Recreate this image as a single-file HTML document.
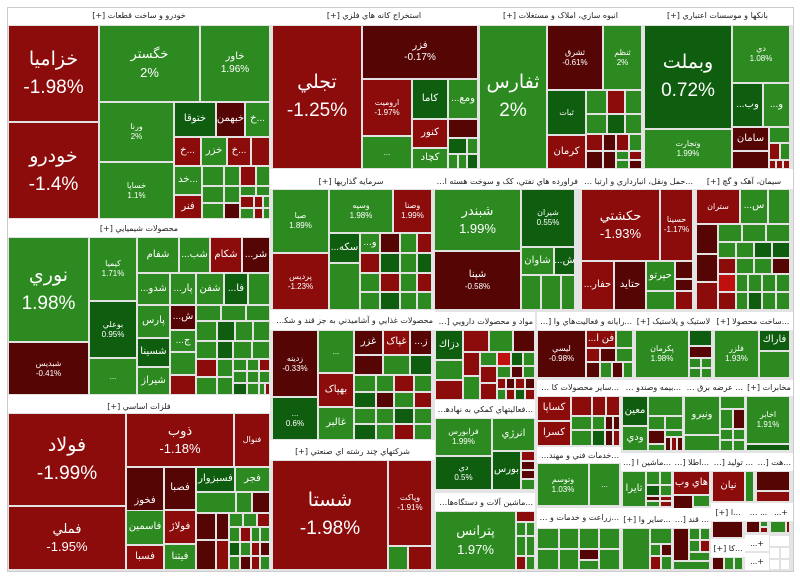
<!DOCTYPE html>
<html><head><meta charset="utf-8"><style>
body{margin:0;width:800px;height:579px;background:#fff;position:relative;overflow:hidden;font-family:"Liberation Sans","DejaVu Sans",sans-serif}
#p{position:absolute;left:7px;top:7px;width:787px;height:565px;background:#e4e4e4;border:1px solid #ccc;box-sizing:border-box}
.b{position:absolute;box-sizing:border-box;border:1px solid #e2e2e2;color:#fff;display:flex;flex-direction:column;align-items:center;justify-content:center;text-align:center;overflow:hidden;font-size:8px;line-height:1.25;white-space:nowrap}
.h{position:absolute;box-sizing:border-box;background:#fff;color:#222;font-size:8px;letter-spacing:-0.2px;text-align:center;overflow:hidden;text-overflow:ellipsis;white-space:nowrap;line-height:15px;direction:rtl;font-family:"DejaVu Sans",sans-serif;padding:0 2px}
.r{background:#8c0b0b}.g{background:#2c8a20}.G{background:#0f5e10}.R{background:#560505}.L{background:#c00f0f}.w{background:#fff}
.x{font-size:19px;line-height:1.45}.m{font-size:13px;line-height:1.4}.s{font-size:10px}
</style></head><body><div id="p"></div>

<!-- خودرو -->
<div class="h" style="left:8px;top:8px;width:262px;height:17px">خودرو و ساخت قطعات [+]</div>
<div class="b r x" style="left:8px;top:25px;width:91px;height:97px">خزاميا<br>-1.98%</div>
<div class="b r x" style="left:8px;top:122px;width:91px;height:97px">خودرو<br>-1.4%</div>
<div class="b g m" style="left:99px;top:25px;width:101px;height:77px">خگستر<br>2%</div>
<div class="b g s" style="left:200px;top:25px;width:70px;height:77px">خاور<br>1.96%</div>
<div class="b g" style="left:99px;top:102px;width:75px;height:60px">ورنا<br>2%</div>
<div class="b g" style="left:99px;top:162px;width:75px;height:57px">خساپا<br>1.1%</div>
<div class="b G s" style="left:174px;top:102px;width:42px;height:35px">ختوقا</div>
<div class="b R s" style="left:216px;top:102px;width:29px;height:35px">خبهمن</div>
<div class="b g s" style="left:245px;top:102px;width:25px;height:35px">خ...</div>
<div class="b r s" style="left:174px;top:137px;width:27px;height:29px">خ...</div>
<div class="b g s" style="left:201px;top:137px;width:26px;height:29px">خزر</div>
<div class="b r s" style="left:227px;top:137px;width:24px;height:29px">خ...</div>
<div class="b r" style="left:251px;top:137px;width:19px;height:29px"></div>
<div class="b g s" style="left:174px;top:166px;width:28px;height:29px">خد...</div>
<div class="b r s" style="left:174px;top:195px;width:28px;height:24px">فنر</div>
<div class="b g" style="left:202px;top:166px;width:22px;height:20px"></div>
<div class="b g" style="left:224px;top:166px;width:16px;height:20px"></div>
<div class="b r" style="left:240px;top:166px;width:16px;height:20px"></div>
<div class="b g" style="left:256px;top:166px;width:14px;height:20px"></div>
<div class="b g" style="left:202px;top:186px;width:22px;height:17px"></div>
<div class="b g" style="left:224px;top:186px;width:16px;height:17px"></div>
<div class="b g" style="left:240px;top:186px;width:16px;height:10px"></div>
<div class="b g" style="left:256px;top:186px;width:14px;height:10px"></div>
<div class="b g" style="left:202px;top:203px;width:22px;height:16px"></div>
<div class="b R" style="left:224px;top:203px;width:16px;height:16px"></div>
<div class="b r" style="left:240px;top:196px;width:14px;height:12px"></div>
<div class="b r" style="left:254px;top:196px;width:9px;height:12px"></div>
<div class="b g" style="left:263px;top:196px;width:7px;height:12px"></div>
<div class="b g" style="left:240px;top:208px;width:14px;height:11px"></div>
<div class="b r" style="left:254px;top:208px;width:9px;height:11px"></div>
<div class="b g" style="left:263px;top:208px;width:7px;height:11px"></div>

<!-- شیمیایی -->
<div class="h" style="left:8px;top:219px;width:262px;height:18px;line-height:20px">محصولات شيميايي [+]</div>
<div class="b g x" style="left:8px;top:237px;width:81px;height:105px">نوري<br>1.98%</div>
<div class="b R" style="left:8px;top:342px;width:81px;height:53px">شبديس<br>-0.41%</div>
<div class="b g" style="left:89px;top:237px;width:48px;height:64px">كيميا<br>1.71%</div>
<div class="b G" style="left:89px;top:301px;width:48px;height:57px">بوعلي<br>0.95%</div>
<div class="b g" style="left:89px;top:358px;width:48px;height:37px">...</div>
<div class="b g s" style="left:137px;top:237px;width:42px;height:36px">شفام</div>
<div class="b g s" style="left:179px;top:237px;width:31px;height:36px">...شب</div>
<div class="b r s" style="left:210px;top:237px;width:32px;height:36px">شكام</div>
<div class="b R s" style="left:242px;top:237px;width:28px;height:36px">...شر</div>
<div class="b g s" style="left:137px;top:273px;width:33px;height:32px">...شدو</div>
<div class="b g s" style="left:137px;top:305px;width:33px;height:33px">پارس</div>
<div class="b G s" style="left:137px;top:338px;width:33px;height:29px">شسينا</div>
<div class="b g s" style="left:137px;top:367px;width:33px;height:28px">شيراز</div>
<div class="b g s" style="left:170px;top:273px;width:26px;height:32px">...پار</div>
<div class="b R s" style="left:170px;top:305px;width:26px;height:25px">...ش</div>
<div class="b g s" style="left:170px;top:330px;width:26px;height:22px">...ج</div>
<div class="b g" style="left:170px;top:352px;width:26px;height:23px"></div>
<div class="b r" style="left:170px;top:375px;width:26px;height:20px"></div>
<div class="b g s" style="left:196px;top:273px;width:28px;height:32px">شفن</div>
<div class="b G s" style="left:224px;top:273px;width:24px;height:32px">...فا</div>
<div class="b g" style="left:248px;top:273px;width:22px;height:32px"></div>
<div class="b g" style="left:196px;top:305px;width:25px;height:16px"></div>
<div class="b g" style="left:221px;top:305px;width:25px;height:16px"></div>
<div class="b g" style="left:246px;top:305px;width:24px;height:16px"></div>
<div class="b g" style="left:196px;top:321px;width:21px;height:20px"></div>
<div class="b G" style="left:217px;top:321px;width:18px;height:20px"></div>
<div class="b g" style="left:235px;top:321px;width:18px;height:20px"></div>
<div class="b g" style="left:253px;top:321px;width:17px;height:20px"></div>
<div class="b g" style="left:196px;top:341px;width:21px;height:18px"></div>
<div class="b G" style="left:217px;top:341px;width:16px;height:18px"></div>
<div class="b g" style="left:233px;top:341px;width:19px;height:18px"></div>
<div class="b g" style="left:252px;top:341px;width:18px;height:18px"></div>
<div class="b r" style="left:196px;top:359px;width:21px;height:18px"></div>
<div class="b g" style="left:217px;top:359px;width:16px;height:18px"></div>
<div class="b g" style="left:233px;top:359px;width:14px;height:12px"></div>
<div class="b g" style="left:247px;top:359px;width:12px;height:12px"></div>
<div class="b r" style="left:259px;top:359px;width:11px;height:12px"></div>
<div class="b g" style="left:196px;top:377px;width:21px;height:18px"></div>
<div class="b g" style="left:217px;top:377px;width:16px;height:18px"></div>
<div class="b g" style="left:233px;top:371px;width:14px;height:12px"></div>
<div class="b g" style="left:247px;top:371px;width:12px;height:12px"></div>
<div class="b g" style="left:259px;top:371px;width:11px;height:12px"></div>
<div class="b G" style="left:233px;top:383px;width:14px;height:12px"></div>
<div class="b g" style="left:247px;top:383px;width:12px;height:12px"></div>
<div class="b g" style="left:259px;top:383px;width:6px;height:12px"></div>
<div class="b r" style="left:265px;top:383px;width:5px;height:12px"></div>

<!-- فلزات -->
<div class="h" style="left:8px;top:395px;width:262px;height:18px;line-height:24px">فلزات اساسي [+]</div>
<div class="b r x" style="left:8px;top:413px;width:118px;height:93px">فولاد<br>-1.99%</div>
<div class="b r m" style="left:8px;top:506px;width:118px;height:64px">فملي<br>-1.95%</div>
<div class="b r m" style="left:126px;top:413px;width:108px;height:54px">ذوب<br>-1.18%</div>
<div class="b r" style="left:234px;top:413px;width:36px;height:54px">فنوال</div>
<div class="b R s" style="left:126px;top:467px;width:38px;height:69px">فخوز</div>
<div class="b R s" style="left:164px;top:467px;width:32px;height:43px">فصبا</div>
<div class="b r s" style="left:164px;top:510px;width:32px;height:34px">فولاژ</div>
<div class="b g s" style="left:164px;top:544px;width:32px;height:26px">فيتنا</div>
<div class="b g s" style="left:126px;top:510px;width:38px;height:35px">فاسمين</div>
<div class="b r s" style="left:126px;top:545px;width:38px;height:25px">فسبا</div>
<div class="b G s" style="left:196px;top:467px;width:39px;height:25px">فسبزوار</div>
<div class="b g s" style="left:235px;top:467px;width:35px;height:25px">فجر</div>
<div class="b g" style="left:196px;top:492px;width:40px;height:21px"></div>
<div class="b g" style="left:236px;top:492px;width:16px;height:21px"></div>
<div class="b R" style="left:252px;top:492px;width:18px;height:21px"></div>
<div class="b R" style="left:196px;top:513px;width:20px;height:27px"></div>
<div class="b R" style="left:196px;top:540px;width:20px;height:30px"></div>
<div class="b R" style="left:216px;top:513px;width:13px;height:27px"></div>
<div class="b r" style="left:216px;top:540px;width:13px;height:30px"></div>
<div class="b g" style="left:229px;top:513px;width:14px;height:14px"></div>
<div class="b g" style="left:243px;top:513px;width:14px;height:14px"></div>
<div class="b r" style="left:257px;top:513px;width:13px;height:14px"></div>
<div class="b g" style="left:229px;top:527px;width:11px;height:15px"></div>
<div class="b r" style="left:240px;top:527px;width:11px;height:15px"></div>
<div class="b g" style="left:251px;top:527px;width:9px;height:15px"></div>
<div class="b g" style="left:260px;top:527px;width:10px;height:15px"></div>
<div class="b G" style="left:229px;top:542px;width:11px;height:14px"></div>
<div class="b g" style="left:240px;top:542px;width:11px;height:14px"></div>
<div class="b r" style="left:251px;top:542px;width:9px;height:14px"></div>
<div class="b R" style="left:260px;top:542px;width:10px;height:14px"></div>
<div class="b g" style="left:229px;top:556px;width:11px;height:14px"></div>
<div class="b R" style="left:240px;top:556px;width:11px;height:14px"></div>
<div class="b r" style="left:251px;top:556px;width:9px;height:14px"></div>
<div class="b g" style="left:260px;top:556px;width:10px;height:14px"></div>

<!-- استخراج -->
<div class="h" style="left:270px;top:8px;width:208px;height:17px">استخراج كانه هاي فلزي [+]</div>
<div class="b r x" style="left:272px;top:25px;width:90px;height:144px">تجلي<br>-1.25%</div>
<div class="b R s" style="left:362px;top:25px;width:116px;height:54px">فزر<br>-0.17%</div>
<div class="b r" style="left:362px;top:79px;width:50px;height:57px">اروميت<br>-1.97%</div>
<div class="b g" style="left:362px;top:136px;width:50px;height:33px">...</div>
<div class="b G s" style="left:412px;top:79px;width:36px;height:40px">كاما</div>
<div class="b g s" style="left:448px;top:79px;width:30px;height:40px">...ومع</div>
<div class="b r s" style="left:412px;top:119px;width:36px;height:29px">كنور</div>
<div class="b g s" style="left:412px;top:148px;width:36px;height:21px">كچاد</div>
<div class="b R" style="left:448px;top:119px;width:30px;height:19px"></div>
<div class="b G" style="left:448px;top:138px;width:19px;height:16px"></div>
<div class="b g" style="left:467px;top:138px;width:11px;height:16px"></div>
<div class="b g" style="left:448px;top:154px;width:10px;height:15px"></div>
<div class="b g" style="left:458px;top:154px;width:9px;height:15px"></div>
<div class="b G" style="left:467px;top:154px;width:11px;height:15px"></div>

<!-- انبوه -->
<div class="h" style="left:478px;top:8px;width:165px;height:17px">انبوه سازي، املاک و مستغلات [+]</div>
<div class="b g x" style="left:479px;top:25px;width:68px;height:144px">ثفارس<br>2%</div>
<div class="b R" style="left:547px;top:25px;width:56px;height:65px">ثشرق<br>-0.61%</div>
<div class="b g" style="left:603px;top:25px;width:39px;height:65px">ثنظم<br>2%</div>
<div class="b G" style="left:547px;top:90px;width:39px;height:45px">ثبات</div>
<div class="b r s" style="left:547px;top:135px;width:39px;height:34px">كرمان</div>
<div class="b g" style="left:586px;top:90px;width:21px;height:24px"></div>
<div class="b r" style="left:607px;top:90px;width:18px;height:24px"></div>
<div class="b g" style="left:625px;top:90px;width:17px;height:24px"></div>
<div class="b g" style="left:586px;top:114px;width:21px;height:20px"></div>
<div class="b G" style="left:607px;top:114px;width:18px;height:20px"></div>
<div class="b g" style="left:625px;top:114px;width:17px;height:20px"></div>
<div class="b r" style="left:586px;top:134px;width:17px;height:17px"></div>
<div class="b R" style="left:603px;top:134px;width:13px;height:17px"></div>
<div class="b r" style="left:616px;top:134px;width:13px;height:17px"></div>
<div class="b g" style="left:629px;top:134px;width:13px;height:17px"></div>
<div class="b R" style="left:586px;top:151px;width:17px;height:18px"></div>
<div class="b R" style="left:603px;top:151px;width:13px;height:18px"></div>
<div class="b g" style="left:616px;top:151px;width:13px;height:9px"></div>
<div class="b r" style="left:629px;top:151px;width:13px;height:9px"></div>
<div class="b g" style="left:616px;top:160px;width:13px;height:9px"></div>
<div class="b R" style="left:629px;top:160px;width:13px;height:9px"></div>

<!-- بانکها -->
<div class="h" style="left:642px;top:8px;width:151px;height:17px">بانکها و موسسات اعتباري [+]</div>
<div class="b G x" style="left:644px;top:25px;width:88px;height:104px">وبملت<br>0.72%</div>
<div class="b g" style="left:644px;top:129px;width:88px;height:40px">وتجارت<br>1.99%</div>
<div class="b g" style="left:732px;top:25px;width:58px;height:58px">دي<br>1.08%</div>
<div class="b G s" style="left:732px;top:83px;width:31px;height:44px">...وب</div>
<div class="b g s" style="left:763px;top:83px;width:27px;height:44px">...و</div>
<div class="b R s" style="left:732px;top:127px;width:37px;height:24px">سامان</div>
<div class="b R" style="left:732px;top:151px;width:37px;height:18px"></div>
<div class="b g" style="left:769px;top:127px;width:21px;height:16px"></div>
<div class="b r" style="left:769px;top:143px;width:11px;height:17px"></div>
<div class="b g" style="left:780px;top:143px;width:10px;height:17px"></div>
<div class="b r" style="left:769px;top:160px;width:7px;height:9px"></div>
<div class="b r" style="left:776px;top:160px;width:7px;height:9px"></div>
<div class="b r" style="left:783px;top:160px;width:7px;height:9px"></div>

<!-- سرمایه گذاریها -->
<div class="h" style="left:270px;top:169px;width:162px;height:20px;line-height:26px">سرمايه گذاريها [+]</div>
<div class="b g" style="left:272px;top:189px;width:57px;height:64px">صبا<br>1.89%</div>
<div class="b r" style="left:272px;top:253px;width:57px;height:57px">پرديس<br>-1.23%</div>
<div class="b g" style="left:329px;top:189px;width:64px;height:44px">وسپه<br>1.98%</div>
<div class="b r" style="left:393px;top:189px;width:39px;height:44px">وصنا<br>1.99%</div>
<div class="b G s" style="left:329px;top:233px;width:31px;height:30px">...سکه</div>
<div class="b g s" style="left:360px;top:233px;width:20px;height:20px">...و</div>
<div class="b R" style="left:380px;top:233px;width:20px;height:20px"></div>
<div class="b g" style="left:400px;top:233px;width:17px;height:20px"></div>
<div class="b r" style="left:417px;top:233px;width:15px;height:20px"></div>
<div class="b g" style="left:329px;top:263px;width:31px;height:47px"></div>
<div class="b r" style="left:360px;top:253px;width:20px;height:20px"></div>
<div class="b G" style="left:380px;top:253px;width:20px;height:20px"></div>
<div class="b g" style="left:400px;top:253px;width:17px;height:20px"></div>
<div class="b G" style="left:417px;top:253px;width:15px;height:20px"></div>
<div class="b g" style="left:360px;top:273px;width:20px;height:19px"></div>
<div class="b r" style="left:380px;top:273px;width:20px;height:19px"></div>
<div class="b g" style="left:400px;top:273px;width:17px;height:19px"></div>
<div class="b r" style="left:417px;top:273px;width:15px;height:19px"></div>
<div class="b g" style="left:360px;top:292px;width:20px;height:18px"></div>
<div class="b G" style="left:380px;top:292px;width:20px;height:18px"></div>
<div class="b g" style="left:400px;top:292px;width:17px;height:18px"></div>
<div class="b g" style="left:417px;top:292px;width:15px;height:18px"></div>

<!-- فراورده نفتی -->
<div class="h" style="left:432px;top:169px;width:148px;height:20px;line-height:26px">فراورده هاي نفتي، کک و سوخت هسته اي [+]</div>
<div class="b g m" style="left:434px;top:189px;width:87px;height:62px">شبندر<br>1.99%</div>
<div class="b R" style="left:434px;top:251px;width:87px;height:59px"><span class="s">شپنا</span>-0.58%</div>
<div class="b G" style="left:521px;top:189px;width:54px;height:58px">شيران<br>0.55%</div>
<div class="b g s" style="left:521px;top:247px;width:33px;height:28px">شاوان</div>
<div class="b G s" style="left:554px;top:247px;width:21px;height:28px">...ش</div>
<div class="b g" style="left:521px;top:275px;width:20px;height:35px"></div>
<div class="b g" style="left:541px;top:275px;width:20px;height:35px"></div>
<div class="b g" style="left:561px;top:275px;width:14px;height:35px"></div>

<!-- حمل و نقل -->
<div class="h" style="left:580px;top:169px;width:115px;height:20px;line-height:26px">...حمل ونقل، انبارداري و ارتبا [+]</div>
<div class="b r m" style="left:581px;top:189px;width:79px;height:72px">حكشتي<br>-1.93%</div>
<div class="b r" style="left:660px;top:189px;width:33px;height:72px">حسينا<br>-1.17%</div>
<div class="b r s" style="left:581px;top:261px;width:33px;height:49px">...حفار</div>
<div class="b R s" style="left:614px;top:261px;width:32px;height:49px">حتايد</div>
<div class="b g s" style="left:646px;top:261px;width:29px;height:30px">حپرتو</div>
<div class="b R" style="left:675px;top:261px;width:18px;height:18px"></div>
<div class="b R" style="left:675px;top:279px;width:18px;height:12px"></div>
<div class="b g" style="left:646px;top:291px;width:29px;height:19px"></div>
<div class="b r" style="left:675px;top:291px;width:18px;height:19px"></div>

<!-- سیمان -->
<div class="h" style="left:695px;top:169px;width:98px;height:20px;line-height:26px">سيمان، آهک و گچ [+]</div>
<div class="b r" style="left:696px;top:189px;width:44px;height:35px">ستران</div>
<div class="b g s" style="left:740px;top:189px;width:28px;height:35px">...س</div>
<div class="b g" style="left:768px;top:189px;width:22px;height:35px"></div>
<div class="b R" style="left:696px;top:224px;width:22px;height:30px"></div>
<div class="b g" style="left:718px;top:224px;width:24px;height:18px"></div>
<div class="b g" style="left:742px;top:224px;width:24px;height:18px"></div>
<div class="b g" style="left:766px;top:224px;width:24px;height:18px"></div>
<div class="b g" style="left:718px;top:242px;width:18px;height:16px"></div>
<div class="b g" style="left:736px;top:242px;width:18px;height:16px"></div>
<div class="b G" style="left:754px;top:242px;width:18px;height:16px"></div>
<div class="b G" style="left:772px;top:242px;width:18px;height:16px"></div>
<div class="b R" style="left:696px;top:254px;width:22px;height:28px"></div>
<div class="b r" style="left:696px;top:282px;width:22px;height:28px"></div>
<div class="b r" style="left:718px;top:258px;width:18px;height:16px"></div>
<div class="b g" style="left:736px;top:258px;width:18px;height:16px"></div>
<div class="b g" style="left:754px;top:258px;width:18px;height:16px"></div>
<div class="b R" style="left:772px;top:258px;width:18px;height:16px"></div>
<div class="b L" style="left:718px;top:274px;width:18px;height:18px"></div>
<div class="b g" style="left:736px;top:274px;width:12px;height:18px"></div>
<div class="b g" style="left:748px;top:274px;width:14px;height:18px"></div>
<div class="b g" style="left:762px;top:274px;width:14px;height:18px"></div>
<div class="b g" style="left:776px;top:274px;width:14px;height:18px"></div>
<div class="b r" style="left:718px;top:292px;width:18px;height:18px"></div>
<div class="b g" style="left:736px;top:292px;width:12px;height:18px"></div>
<div class="b G" style="left:748px;top:292px;width:14px;height:18px"></div>
<div class="b g" style="left:762px;top:292px;width:14px;height:18px"></div>
<div class="b g" style="left:776px;top:292px;width:14px;height:18px"></div>

<!-- غذایی -->
<div class="h" style="left:270px;top:310px;width:165px;height:20px;line-height:22px">محصولات غذايي و آشاميدني به جز قند و شکر [+]</div>
<div class="b R" style="left:272px;top:330px;width:46px;height:67px">زدينه<br>-0.33%</div>
<div class="b G" style="left:272px;top:397px;width:46px;height:43px">...<br>0.6%</div>
<div class="b g" style="left:318px;top:330px;width:36px;height:43px">...</div>
<div class="b r s" style="left:318px;top:373px;width:36px;height:34px">بهپاک</div>
<div class="b g s" style="left:318px;top:407px;width:36px;height:33px">غالبر</div>
<div class="b R s" style="left:354px;top:330px;width:29px;height:25px">غزر</div>
<div class="b r s" style="left:383px;top:330px;width:27px;height:25px">غپاک</div>
<div class="b R s" style="left:410px;top:330px;width:22px;height:25px">...ز</div>
<div class="b R" style="left:354px;top:355px;width:29px;height:20px"></div>
<div class="b g" style="left:383px;top:355px;width:27px;height:20px"></div>
<div class="b G" style="left:410px;top:355px;width:22px;height:20px"></div>
<div class="b g" style="left:354px;top:375px;width:22px;height:17px"></div>
<div class="b g" style="left:376px;top:375px;width:18px;height:17px"></div>
<div class="b r" style="left:394px;top:375px;width:20px;height:17px"></div>
<div class="b g" style="left:414px;top:375px;width:18px;height:17px"></div>
<div class="b G" style="left:354px;top:392px;width:22px;height:16px"></div>
<div class="b R" style="left:376px;top:392px;width:18px;height:16px"></div>
<div class="b g" style="left:394px;top:392px;width:20px;height:16px"></div>
<div class="b r" style="left:414px;top:392px;width:18px;height:16px"></div>
<div class="b g" style="left:354px;top:408px;width:22px;height:16px"></div>
<div class="b g" style="left:376px;top:408px;width:18px;height:16px"></div>
<div class="b G" style="left:394px;top:408px;width:20px;height:16px"></div>
<div class="b g" style="left:414px;top:408px;width:18px;height:16px"></div>
<div class="b G" style="left:354px;top:424px;width:22px;height:16px"></div>
<div class="b g" style="left:376px;top:424px;width:18px;height:16px"></div>
<div class="b r" style="left:394px;top:424px;width:20px;height:16px"></div>
<div class="b g" style="left:414px;top:424px;width:18px;height:16px"></div>

<!-- چند رشته -->
<div class="h" style="left:270px;top:440px;width:165px;height:20px;line-height:24px">شرکتهاي چند رشته اي صنعتي [+]</div>
<div class="b r x" style="left:272px;top:460px;width:116px;height:110px">شستا<br>-1.98%</div>
<div class="b r" style="left:388px;top:460px;width:44px;height:86px">وپاکت<br>-1.91%</div>
<div class="b g" style="left:388px;top:546px;width:20px;height:24px"></div>
<div class="b r" style="left:408px;top:546px;width:24px;height:24px"></div>

<!-- دارویی -->
<div class="h" style="left:435px;top:312px;width:100px;height:18px;line-height:20px">مواد و محصولات دارويي [+]</div>
<div class="b G s" style="left:435px;top:330px;width:28px;height:30px">دزاك</div>
<div class="b g" style="left:435px;top:360px;width:28px;height:20px"></div>
<div class="b r" style="left:435px;top:380px;width:28px;height:20px"></div>
<div class="b r" style="left:463px;top:330px;width:26px;height:22px"></div>
<div class="b g" style="left:489px;top:330px;width:24px;height:22px"></div>
<div class="b R" style="left:513px;top:330px;width:22px;height:22px"></div>
<div class="b r" style="left:463px;top:352px;width:17px;height:24px"></div>
<div class="b g" style="left:480px;top:352px;width:17px;height:14px"></div>
<div class="b L" style="left:497px;top:352px;width:14px;height:14px"></div>
<div class="b G" style="left:511px;top:352px;width:12px;height:14px"></div>
<div class="b g" style="left:523px;top:352px;width:12px;height:14px"></div>
<div class="b g" style="left:463px;top:376px;width:17px;height:24px"></div>
<div class="b r" style="left:480px;top:366px;width:17px;height:17px"></div>
<div class="b g" style="left:497px;top:366px;width:14px;height:12px"></div>
<div class="b R" style="left:511px;top:366px;width:12px;height:12px"></div>
<div class="b g" style="left:523px;top:366px;width:12px;height:12px"></div>
<div class="b r" style="left:480px;top:383px;width:17px;height:17px"></div>
<div class="b r" style="left:497px;top:378px;width:9px;height:11px"></div>
<div class="b R" style="left:506px;top:378px;width:9px;height:11px"></div>
<div class="b r" style="left:515px;top:378px;width:10px;height:11px"></div>
<div class="b R" style="left:525px;top:378px;width:10px;height:11px"></div>
<div class="b g" style="left:497px;top:389px;width:9px;height:11px"></div>
<div class="b r" style="left:506px;top:389px;width:9px;height:11px"></div>
<div class="b G" style="left:515px;top:389px;width:10px;height:11px"></div>
<div class="b r" style="left:525px;top:389px;width:10px;height:11px"></div>

<!-- رایانه -->
<div class="h" style="left:537px;top:312px;width:97px;height:18px;line-height:20px">...رايانه و فعاليت‌هاي وا [+]</div>
<div class="b R" style="left:537px;top:330px;width:49px;height:48px">ليسي<br>-0.98%</div>
<div class="b r s" style="left:586px;top:330px;width:30px;height:18px">...فن ا</div>
<div class="b g" style="left:616px;top:330px;width:17px;height:18px"></div>
<div class="b r" style="left:586px;top:348px;width:14px;height:14px"></div>
<div class="b R" style="left:600px;top:348px;width:16px;height:14px"></div>
<div class="b g" style="left:616px;top:348px;width:17px;height:14px"></div>
<div class="b R" style="left:586px;top:362px;width:14px;height:16px"></div>
<div class="b g" style="left:600px;top:362px;width:12px;height:16px"></div>
<div class="b R" style="left:612px;top:362px;width:11px;height:16px"></div>
<div class="b g" style="left:623px;top:362px;width:10px;height:16px"></div>

<!-- لاستیک -->
<div class="h" style="left:634px;top:312px;width:79px;height:18px;line-height:20px">لاستيک و پلاستيک [+]</div>
<div class="b g" style="left:635px;top:330px;width:54px;height:48px">پكرمان<br>1.98%</div>
<div class="b G" style="left:689px;top:330px;width:23px;height:16px"></div>
<div class="b R" style="left:689px;top:346px;width:23px;height:12px"></div>
<div class="b g" style="left:689px;top:358px;width:12px;height:10px"></div>
<div class="b g" style="left:701px;top:358px;width:11px;height:10px"></div>
<div class="b g" style="left:689px;top:368px;width:12px;height:10px"></div>
<div class="b g" style="left:701px;top:368px;width:11px;height:10px"></div>

<!-- ساخت محصولات -->
<div class="h" style="left:713px;top:312px;width:80px;height:18px;line-height:20px">...ساخت محصولا [+]</div>
<div class="b g" style="left:714px;top:330px;width:45px;height:48px">فلزر<br>1.93%</div>
<div class="b G s" style="left:759px;top:330px;width:31px;height:21px">فاراك</div>
<div class="b g" style="left:759px;top:351px;width:31px;height:27px"></div>

<!-- سایر محصولات -->
<div class="h" style="left:537px;top:380px;width:84px;height:16px;line-height:16px">...ساير محصولات كا [+]</div>
<div class="b r s" style="left:537px;top:396px;width:34px;height:25px">كساپا</div>
<div class="b r s" style="left:537px;top:421px;width:34px;height:25px">كسرا</div>
<div class="b r" style="left:571px;top:396px;width:21px;height:20px"></div>
<div class="b r" style="left:592px;top:396px;width:14px;height:20px"></div>
<div class="b r" style="left:606px;top:396px;width:14px;height:20px"></div>
<div class="b g" style="left:571px;top:416px;width:21px;height:14px"></div>
<div class="b g" style="left:592px;top:416px;width:13px;height:14px"></div>
<div class="b R" style="left:605px;top:416px;width:8px;height:14px"></div>
<div class="b R" style="left:613px;top:416px;width:7px;height:14px"></div>
<div class="b g" style="left:571px;top:430px;width:21px;height:16px"></div>
<div class="b G" style="left:592px;top:430px;width:13px;height:16px"></div>
<div class="b R" style="left:605px;top:430px;width:8px;height:16px"></div>
<div class="b r" style="left:613px;top:430px;width:7px;height:16px"></div>

<!-- فعالیتهای کمکی -->
<div class="h" style="left:435px;top:400px;width:100px;height:18px;line-height:20px">...فعاليتهاي كمكي به نهادها [+]</div>
<div class="b g" style="left:435px;top:418px;width:57px;height:38px">فرابورس<br>1.99%</div>
<div class="b g s" style="left:492px;top:418px;width:43px;height:33px">انرژي</div>
<div class="b G" style="left:435px;top:456px;width:57px;height:34px">دي<br>0.5%</div>
<div class="b G s" style="left:492px;top:451px;width:29px;height:39px">بورس</div>
<div class="b r" style="left:521px;top:451px;width:14px;height:10px"></div>
<div class="b R" style="left:521px;top:461px;width:14px;height:9px"></div>
<div class="b R" style="left:521px;top:470px;width:14px;height:9px"></div>
<div class="b g" style="left:521px;top:479px;width:14px;height:11px"></div>

<!-- ماشین آلات -->
<div class="h" style="left:435px;top:493px;width:100px;height:18px;line-height:20px">...ماشين آلات و دستگاه‌هاي [+]</div>
<div class="b g m" style="left:435px;top:511px;width:81px;height:59px">پترانس<br>1.97%</div>
<div class="b r" style="left:516px;top:511px;width:19px;height:11px"></div>
<div class="b g" style="left:516px;top:522px;width:10px;height:14px"></div>
<div class="b g" style="left:526px;top:522px;width:9px;height:14px"></div>
<div class="b g" style="left:516px;top:536px;width:10px;height:20px"></div>
<div class="b g" style="left:526px;top:536px;width:9px;height:20px"></div>
<div class="b r" style="left:516px;top:556px;width:10px;height:14px"></div>
<div class="b g" style="left:526px;top:556px;width:9px;height:14px"></div>

<!-- خدمات فنی -->
<div class="h" style="left:537px;top:447px;width:84px;height:16px;line-height:18px">...خدمات فني و مهند [+]</div>
<div class="b g" style="left:537px;top:463px;width:52px;height:43px">وتوسم<br>1.03%</div>
<div class="b g" style="left:589px;top:463px;width:31px;height:43px">...</div>
<!-- زراعت -->
<div class="h" style="left:537px;top:508px;width:84px;height:20px;line-height:20px">...زراعت و خدمات و [+]</div>
<div class="b g" style="left:537px;top:528px;width:22px;height:21px"></div>
<div class="b g" style="left:559px;top:528px;width:20px;height:21px"></div>
<div class="b g" style="left:579px;top:528px;width:20px;height:21px"></div>
<div class="b g" style="left:599px;top:528px;width:21px;height:21px"></div>
<div class="b g" style="left:537px;top:549px;width:22px;height:21px"></div>
<div class="b g" style="left:559px;top:549px;width:20px;height:21px"></div>
<div class="b R" style="left:579px;top:549px;width:20px;height:11px"></div>
<div class="b g" style="left:599px;top:549px;width:21px;height:21px"></div>
<div class="b g" style="left:579px;top:560px;width:20px;height:10px"></div>

<!-- بیمه -->
<div class="h" style="left:621px;top:380px;width:62px;height:16px;line-height:16px">...بيمه وصندو [+]</div>
<div class="b G s" style="left:622px;top:396px;width:26px;height:30px">معين</div>
<div class="b g s" style="left:622px;top:426px;width:26px;height:25px">ودي</div>
<div class="b g" style="left:648px;top:396px;width:35px;height:20px"></div>
<div class="b g" style="left:648px;top:416px;width:17px;height:14px"></div>
<div class="b g" style="left:665px;top:416px;width:18px;height:14px"></div>
<div class="b R" style="left:648px;top:430px;width:17px;height:14px"></div>
<div class="b g" style="left:665px;top:430px;width:18px;height:7px"></div>
<div class="b R" style="left:665px;top:437px;width:6px;height:14px"></div>
<div class="b r" style="left:671px;top:437px;width:6px;height:14px"></div>
<div class="b R" style="left:677px;top:437px;width:6px;height:14px"></div>
<div class="b g" style="left:648px;top:444px;width:17px;height:7px"></div>

<!-- عرضه برق -->
<div class="h" style="left:683px;top:380px;width:62px;height:16px;line-height:16px">... عرضه برق [+]</div>
<div class="b g s" style="left:684px;top:396px;width:36px;height:39px">ونيرو</div>
<div class="b g" style="left:684px;top:435px;width:36px;height:16px"></div>
<div class="b g" style="left:720px;top:396px;width:25px;height:13px"></div>
<div class="b g" style="left:720px;top:409px;width:13px;height:20px"></div>
<div class="b R" style="left:733px;top:409px;width:12px;height:20px"></div>
<div class="b g" style="left:720px;top:429px;width:13px;height:11px"></div>
<div class="b g" style="left:733px;top:429px;width:12px;height:11px"></div>
<div class="b g" style="left:720px;top:440px;width:13px;height:11px"></div>
<div class="b g" style="left:733px;top:440px;width:12px;height:11px"></div>

<!-- مخابرات -->
<div class="h" style="left:745px;top:380px;width:48px;height:16px;line-height:16px">مخابرات [+]</div>
<div class="b g" style="left:746px;top:396px;width:44px;height:48px">اخابر<br>1.91%</div>
<div class="b G" style="left:746px;top:444px;width:44px;height:7px"></div>

<!-- ماشین -->
<div class="h" style="left:621px;top:453px;width:52px;height:18px;line-height:20px">...ماشين ا [+]</div>
<div class="b g s" style="left:622px;top:471px;width:24px;height:36px">تايرا</div>
<div class="b g" style="left:646px;top:471px;width:14px;height:14px"></div>
<div class="b g" style="left:660px;top:471px;width:12px;height:14px"></div>
<div class="b G" style="left:646px;top:485px;width:14px;height:11px"></div>
<div class="b g" style="left:660px;top:485px;width:12px;height:11px"></div>
<div class="b R" style="left:646px;top:496px;width:14px;height:5px"></div>
<div class="b r" style="left:660px;top:496px;width:12px;height:5px"></div>
<div class="b g" style="left:646px;top:501px;width:14px;height:6px"></div>
<div class="b r" style="left:660px;top:501px;width:12px;height:6px"></div>
<!-- اطلاع -->
<div class="h" style="left:672px;top:453px;width:39px;height:18px;line-height:20px">...اطلا [+]</div>
<div class="b r s" style="left:673px;top:471px;width:37px;height:24px">هاي وب</div>
<div class="b R" style="left:673px;top:495px;width:20px;height:18px"></div>
<div class="b g" style="left:693px;top:495px;width:17px;height:12px"></div>
<div class="b G" style="left:693px;top:507px;width:17px;height:6px"></div>
<!-- تولید -->
<div class="h" style="left:711px;top:453px;width:44px;height:18px;line-height:20px">... توليد [+]</div>
<div class="b r s" style="left:712px;top:471px;width:33px;height:31px">نيان</div>
<div class="b g" style="left:745px;top:471px;width:9px;height:31px"></div>
<!-- هت -->
<div class="h" style="left:755px;top:453px;width:38px;height:18px;line-height:20px">...هت [+]</div>
<div class="b R" style="left:756px;top:471px;width:34px;height:20px"></div>
<div class="b r" style="left:756px;top:491px;width:34px;height:11px"></div>

<!-- bottom right small -->
<div class="h" style="left:621px;top:508px;width:52px;height:20px;line-height:24px">...ساير وا [+]</div>
<div class="b g" style="left:622px;top:528px;width:28px;height:42px"></div>
<div class="b g" style="left:650px;top:528px;width:22px;height:16px"></div>
<div class="b g" style="left:650px;top:544px;width:11px;height:12px"></div>
<div class="b R" style="left:661px;top:544px;width:11px;height:12px"></div>
<div class="b r" style="left:650px;top:556px;width:11px;height:14px"></div>
<div class="b g" style="left:661px;top:556px;width:11px;height:14px"></div>
<div class="h" style="left:672px;top:508px;width:39px;height:20px;line-height:24px">... قند [+]</div>
<div class="b R" style="left:673px;top:528px;width:16px;height:33px"></div>
<div class="b g" style="left:689px;top:528px;width:11px;height:12px"></div>
<div class="b g" style="left:700px;top:528px;width:10px;height:12px"></div>
<div class="b g" style="left:689px;top:540px;width:11px;height:12px"></div>
<div class="b r" style="left:700px;top:540px;width:10px;height:12px"></div>
<div class="b g" style="left:673px;top:561px;width:37px;height:9px"></div>
<div class="b g" style="left:689px;top:552px;width:21px;height:9px"></div>
<div class="h" style="left:711px;top:503px;width:34px;height:18px;line-height:20px">...ا [+]</div>
<div class="b R" style="left:712px;top:521px;width:31px;height:17px"></div>
<div class="h" style="left:711px;top:539px;width:34px;height:18px;line-height:20px">...كا [+]</div>
<div class="b R" style="left:712px;top:557px;width:12px;height:13px"></div>
<div class="b g" style="left:724px;top:557px;width:10px;height:13px"></div>
<div class="b g" style="left:734px;top:557px;width:9px;height:13px"></div>
<div class="h" style="left:745px;top:503px;width:24px;height:18px;line-height:20px">... [+]</div>
<div class="b R" style="left:746px;top:521px;width:14px;height:12px"></div>
<div class="b g" style="left:760px;top:521px;width:8px;height:6px"></div>
<div class="b r" style="left:760px;top:527px;width:8px;height:6px"></div>
<div class="h" style="left:769px;top:503px;width:24px;height:18px;line-height:20px">+...</div>
<div class="b g" style="left:770px;top:521px;width:16px;height:12px"></div>
<div class="b r" style="left:786px;top:521px;width:4px;height:12px"></div>
<div class="h" style="left:745px;top:535px;width:24px;height:16px;line-height:18px">+...</div>
<div class="h" style="left:745px;top:553px;width:24px;height:17px;line-height:18px">+...</div>
<div class="b w" style="left:769px;top:535px;width:21px;height:12px"></div>
<div class="b w" style="left:769px;top:547px;width:11px;height:12px"></div>
<div class="b w" style="left:780px;top:547px;width:10px;height:12px"></div>
<div class="b w" style="left:769px;top:559px;width:11px;height:11px"></div>
<div class="b w" style="left:780px;top:559px;width:10px;height:11px"></div>
</body></html>
